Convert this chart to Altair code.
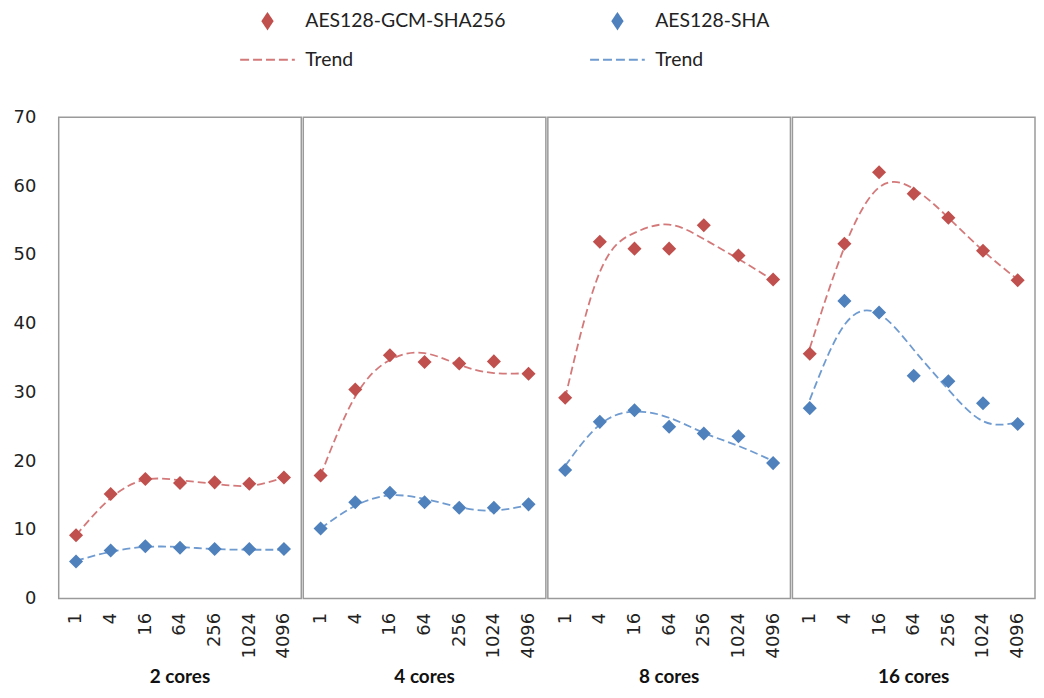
import altair as alt
import pandas as pd

cores = ["2 cores", "4 cores", "8 cores", "16 cores"]
sizes = ["1", "4", "16", "64", "256", "1024", "4096"]

series_gcm = "AES128-GCM-SHA256"
series_sha = "AES128-SHA"
trend_gcm = "Trend (GCM)"
trend_sha = "Trend (SHA)"

# measured points
gcm_2 = [9.2, 15.2, 17.4, 16.8, 16.9, 16.7, 17.6]
gcm_4 = [17.9, 30.4, 35.4, 34.4, 34.2, 34.5, 32.7]
gcm_8 = [29.2, 51.9, 50.9, 50.9, 54.3, 49.9, 46.4]
gcm_16 = [35.6, 51.6, 62.0, 58.9, 55.4, 50.6, 46.3]

sha_2 = [5.4, 7.0, 7.6, 7.4, 7.2, 7.2, 7.2]
sha_4 = [10.2, 14.0, 15.4, 14.0, 13.2, 13.2, 13.7]
sha_8 = [18.7, 25.7, 27.4, 25.0, 24.0, 23.6, 19.7]
sha_16 = [27.7, 43.3, 41.6, 32.4, 31.6, 28.4, 25.4]

# trend curves read at each category
tgcm_2 = [9.2, 14.6, 17.3, 17.2, 16.7, 16.4, 17.6]
tgcm_4 = [17.9, 29.4, 34.7, 35.7, 34.0, 32.8, 32.8]
tgcm_8 = [29.2, 47.5, 53.2, 54.4, 52.3, 49.4, 46.3]
tgcm_16 = [36.4, 51.1, 59.8, 59.6, 55.4, 50.6, 46.4]

tsha_2 = [5.5, 6.8, 7.5, 7.5, 7.2, 7.1, 7.1]
tsha_4 = [10.2, 13.5, 15.0, 14.5, 13.3, 12.8, 13.6]
tsha_8 = [19.3, 25.3, 27.2, 26.3, 24.1, 22.2, 20.0]
tsha_16 = [28.9, 39.8, 41.4, 36.2, 30.4, 25.8, 25.6]

points_by_core = {
    "2 cores": (gcm_2, sha_2, tgcm_2, tsha_2),
    "4 cores": (gcm_4, sha_4, tgcm_4, tsha_4),
    "8 cores": (gcm_8, sha_8, tgcm_8, tsha_8),
    "16 cores": (gcm_16, sha_16, tgcm_16, tsha_16),
}

RED = "#C0504D"
BLUE = "#4F81BD"
RED_T = "#D4797A"
BLUE_T = "#6F9BD0"

rows = []
for c in cores:
    g, s, tg, ts = points_by_core[c]
    for i, sz in enumerate(sizes):
        rows.append({"cores": c, "size": sz, "value": g[i], "legend": series_gcm, "kind": "pt"})
        rows.append({"cores": c, "size": sz, "value": s[i], "legend": series_sha, "kind": "pt"})
        rows.append({"cores": c, "size": sz, "value": tg[i], "legend": trend_gcm, "kind": "tr"})
        rows.append({"cores": c, "size": sz, "value": ts[i], "legend": trend_sha, "kind": "tr"})
df = pd.DataFrame(rows)

domain = [series_gcm, series_sha, trend_gcm, trend_sha]
color_scale = alt.Scale(domain=domain, range=[RED, BLUE, RED_T, BLUE_T])

is_trend = "indexof(datum.value, 'Trend') === 0"
is_red = "(datum.value === 'AES128-GCM-SHA256' || datum.value === 'Trend (GCM)')"
diamond_path = "M0,-0.75L0.5,0L0,0.75L-0.5,0Z"
stroke_path = "M-2.75,0L2.75,0"

legend = alt.Legend(
    title=None,
    orient="none",
    direction="horizontal",
    legendX=199,
    legendY=-108,
    columns=2,
    columnPadding=80,
    rowPadding=16,
    labelFont="Lato",
    labelFontSize=19.5,
    labelColor="#222",
    labelOffset=27,
    labelLimit=400,
    labelExpr="indexof(datum.label, 'Trend') === 0 ? 'Trend' : datum.label",
    symbolSize=400,
    symbolStrokeWidth=2,
    symbolType={"expr": f"{is_trend} ? '{stroke_path}' : '{diamond_path}'"},
    symbolFillColor={"expr": f"{is_red} ? '{RED}' : '{BLUE}'"},
    symbolDash={"expr": f"{is_trend} ? [9, 4] : [1, 0]"},
    symbolOpacity=1,
)

x_enc = alt.X(
    "size:N",
    sort=sizes,
    axis=alt.Axis(
        title=None,
        labelAngle=-90,
        ticks=False,
        domain=False,
        labelPadding=13,
        labelFont="DejaVu Sans",
        labelFontSize=18,
        labelColor="#222",
    ),
)
y_enc = alt.Y(
    "value:Q",
    scale=alt.Scale(domain=[0, 70], nice=False),
    axis=alt.Axis(
        title=None,
        values=list(range(0, 71, 10)),
        grid=False,
        ticks=False,
        domain=False,
        labelPadding=22,
        labelFont="DejaVu Sans",
        labelFontSize=18,
        labelColor="#222",
    ),
)

base = alt.Chart(df)

lines = base.transform_filter("datum.kind === 'tr'").mark_line(
    interpolate="natural", strokeWidth=1.8, strokeDash=[8, 4]
).encode(
    x=x_enc,
    y=y_enc,
    color=alt.Color("legend:N", scale=color_scale, legend=legend),
    detail="legend:N",
)

pts = base.transform_filter("datum.kind === 'pt'").mark_point(
    shape="diamond", filled=True, size=200, opacity=1
).encode(
    x=x_enc,
    y=y_enc,
    color=alt.Color("legend:N", scale=color_scale, legend=legend),
)

layered = alt.layer(lines, pts).properties(width=244, height=484)

chart = layered.facet(
    column=alt.Column(
        "cores:N",
        sort=cores,
        header=alt.Header(
            title=None,
            labelOrient="bottom",
            labelFont="Lato",
            labelFontWeight="bold",
            labelFontSize=19,
            labelColor="#111",
            labelPadding=10,
        ),
    ),
    spacing=0,
).properties(
    padding={"left": 5, "top": 0, "right": 0, "bottom": 0}
).configure_view(
    stroke="#9a9a9a", strokeWidth=1.5
)

chart.save("out.html", embed_options={"renderer": "svg", "actions": False})
